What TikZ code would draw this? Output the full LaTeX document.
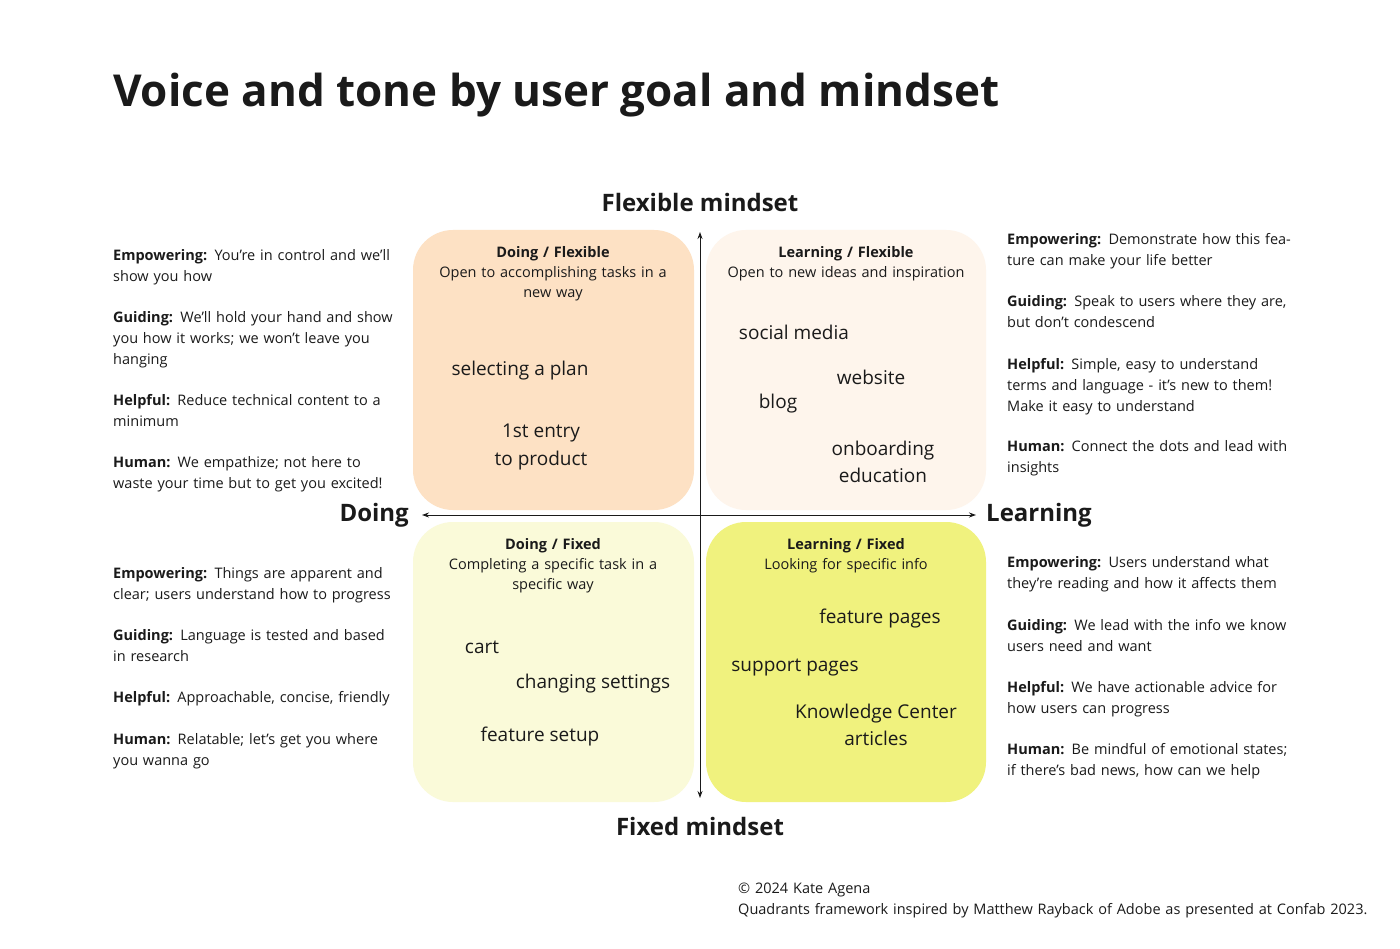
\documentclass[tikz,border=0pt]{standalone}
\usepackage{fontspec}
\setmainfont{Open Sans}
\usetikzlibrary{arrows.meta}
\definecolor{doflex}{HTML}{FDE1C4}
\definecolor{leflex}{HTML}{FEF5EC}
\definecolor{dofix}{HTML}{FAFAD9}
\definecolor{lefix}{HTML}{F0F27E}
\definecolor{ink}{HTML}{1A1A1A}
\tikzset{
  quad/.style={rounded corners=40pt, draw=none},
  para/.style={anchor=north west, inner sep=0pt, text width=285pt, align=left,
               font=\fontsize{14.5}{21}\selectfont, text=ink},
  head/.style={anchor=north, inner sep=0pt, text width=260pt, align=center,
               font=\fontsize{14.5}{20}\selectfont, text=ink},
  item/.style={inner sep=0pt, align=center, font=\fontsize{19}{27.5}\selectfont, text=ink},
  axislabel/.style={inner sep=0pt, font=\fontsize{24}{28}\selectfont\bfseries, text=ink},
  axis/.style={-{Stealth[length=7pt,width=5pt]}, line width=0.9pt, ink}
}
\begin{document}
\begin{tikzpicture}[x=1pt, y=-1pt]
\useasboundingbox[fill=white] (0,0) rectangle (1400,949);
% title
\node[anchor=west, inner sep=0pt, font=\fontsize{44}{50}\selectfont\bfseries, text=ink]
  (title) at (113,95) {Voice and tone by user goal and mindset};
% quadrants
\fill[quad, doflex] (413,230) rectangle (694,510);
\fill[quad, leflex] (706,230) rectangle (986,510);
\fill[quad, dofix] (413,522) rectangle (694,802);
\fill[quad, lefix] (706,522) rectangle (986,802);
% axes
\coordinate (top) at (700,232);
\coordinate (bot) at (700,798);
\coordinate (lft) at (422,515);
\coordinate (rgt) at (976,515);
\coordinate (mid) at (700,515);
\draw[axis] (mid) -- (top);
\draw[axis] (mid) -- (bot);
\draw[axis] (mid) -- (lft);
\draw[axis] (mid) -- (rgt);
\node[axislabel] (flex) at (700,203) {Flexible mindset};
\node[axislabel] (fix) at (700,826) {Fixed mindset};
\node[axislabel, anchor=east] (doing) at (409,515) {Doing};
\node[axislabel, anchor=west] (learning) at (986,515) {Learning};
% headings
\node[head] (hdf) at (553,246) {\textbf{Doing / Flexible}\\Open to accomplishing tasks in a\\new way};
\node[head] (hlf) at (846,246) {\textbf{Learning / Flexible}\\Open to new ideas and inspiration};
\node[head] (hdx) at (553,538) {\textbf{Doing / Fixed}\\Completing a specific task in a\\specific way};
\node[head] (hlx) at (846,538) {\textbf{Learning / Fixed}\\Looking for specific info};
% items
\node[item] (plan) at (520,371) {selecting a plan};
\node[item] (entry) at (541,447) {1st entry\\to product};
\node[item] (social) at (794,332) {social media};
\node[item] (web) at (871,377) {website};
\node[item] (blog) at (778,404) {blog};
\node[item] (onb) at (883,462) {onboarding\\education};
\node[item] (cart) at (482,647) {cart};
\node[item] (settings) at (593,684) {changing settings};
\node[item] (setup) at (540,737) {feature setup};
\node[item] (fpages) at (880,619) {feature pages};
\node[item] (spages) at (795,668) {support pages};
\node[item] (kc) at (876,725) {Knowledge Center\\articles};
% left, flexible
\node[para] (p1) at (113,249) {\textbf{Empowering:} You’re in control and we’ll show you how};
\node[para] (p2) at (113,311) {\textbf{Guiding:} We'll hold your hand and show you how it works; we won’t leave you hanging};
\node[para] (p3) at (113,394) {\textbf{Helpful:} Reduce technical content to a minimum};
\node[para] (p4) at (113,456) {\textbf{Human:} We empathize; not here to waste your time but to get you excited!};
% left, fixed
\node[para] (p5) at (113,567) {\textbf{Empowering:} Things are apparent and clear; users understand how to progress};
\node[para] (p6) at (113,629) {\textbf{Guiding:} Language is tested and based in research};
\node[para] (p7) at (113,691) {\textbf{Helpful:} Approachable, concise, friendly};
\node[para] (p8) at (113,733) {\textbf{Human:} Relatable; let’s get you where you wanna go};
% right, flexible
\node[para] (q1) at (1007,233) {\textbf{Empowering:} Demonstrate how this feature can make your life better};
\node[para] (q2) at (1007,295) {\textbf{Guiding:} Speak to users where they are, but don’t condescend};
\node[para] (q3) at (1007,358) {\textbf{Helpful:} Simple, easy to understand terms and language - it’s new to them! Make it easy to understand};
\node[para] (q4) at (1007,440) {\textbf{Human:} Connect the dots and lead with insights};
% right, fixed
\node[para] (q5) at (1007,556) {\textbf{Empowering:} Users understand what they’re reading and how it affects them};
\node[para] (q6) at (1007,619) {\textbf{Guiding:} We lead with the info we know users need and want};
\node[para] (q7) at (1007,681) {\textbf{Helpful:} We have actionable advice for how users can progress};
\node[para] (q8) at (1007,743) {\textbf{Human:} Be mindful of emotional states; if there’s bad news, how can we help};
% footer
\node[para, text width=650pt] (foot) at (738,883) {© 2024 Kate Agena\\Quadrants framework inspired by Matthew Rayback of Adobe as presented at Confab 2023.};
\end{tikzpicture}
\end{document}
